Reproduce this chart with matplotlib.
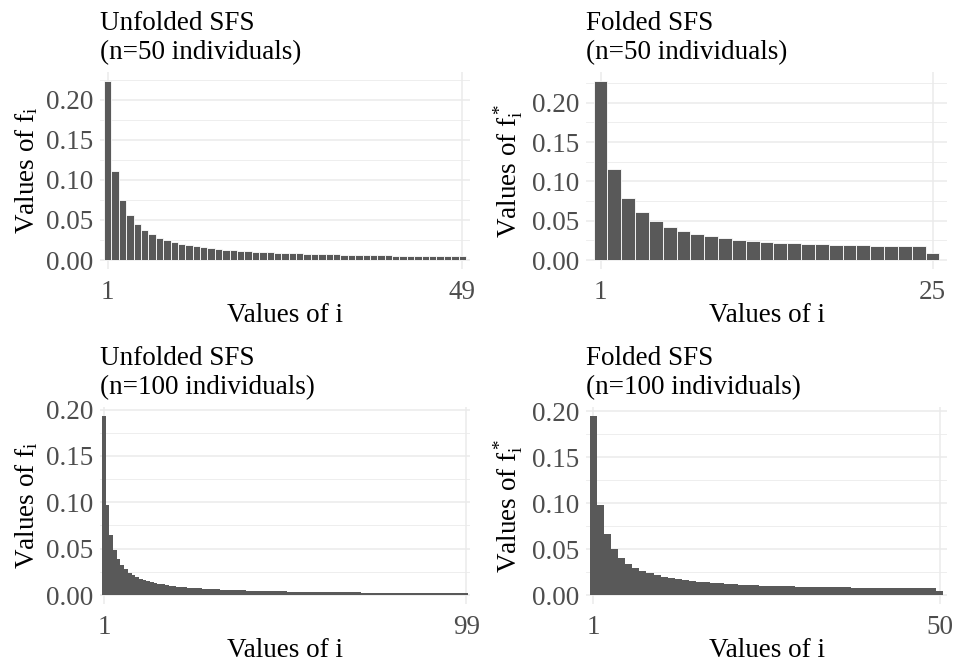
import matplotlib
matplotlib.use("Agg")
import matplotlib.pyplot as plt
import numpy as np

# site frequency spectra under the neutral model, n = 50 and n = 100
sfs50 = [0.2233, 0.1116, 0.0744, 0.0558, 0.0447, 0.0372, 0.0319, 0.0279, 0.0248, 0.0223,
         0.0203, 0.0186, 0.0172, 0.0159, 0.0149, 0.0140, 0.0131, 0.0124, 0.0118, 0.0112,
         0.0106, 0.0101, 0.0097, 0.0093, 0.0089, 0.0086, 0.0083, 0.0080, 0.0077, 0.0074,
         0.0072, 0.0070, 0.0068, 0.0066, 0.0064, 0.0062, 0.0060, 0.0059, 0.0057, 0.0056,
         0.0054, 0.0053, 0.0052, 0.0051, 0.0050, 0.0049, 0.0048, 0.0047, 0.0046]

folded50 = [0.2278, 0.1163, 0.0792, 0.0607, 0.0496, 0.0423, 0.0371, 0.0332, 0.0303, 0.0279,
            0.0260, 0.0245, 0.0232, 0.0221, 0.0213, 0.0205, 0.0199, 0.0194, 0.0190, 0.0186,
            0.0183, 0.0181, 0.0180, 0.0179, 0.0089]

sfs100 = [0.1931, 0.0966, 0.0644, 0.0483, 0.0386, 0.0322, 0.0276, 0.0241, 0.0215, 0.0193,
          0.0176, 0.0161, 0.0149, 0.0138, 0.0129, 0.0121, 0.0114, 0.0107, 0.0102, 0.0097,
          0.0092, 0.0088, 0.0084, 0.0080, 0.0077, 0.0074, 0.0072, 0.0069, 0.0067, 0.0064,
          0.0062, 0.0060, 0.0059, 0.0057, 0.0055, 0.0054, 0.0052, 0.0051, 0.0050, 0.0048,
          0.0047, 0.0046, 0.0045, 0.0044, 0.0043, 0.0042, 0.0041, 0.0040, 0.0039, 0.0039,
          0.0038, 0.0037, 0.0036, 0.0036, 0.0035, 0.0034, 0.0034, 0.0033, 0.0033, 0.0032,
          0.0032, 0.0031, 0.0031, 0.0030, 0.0030, 0.0029, 0.0029, 0.0028, 0.0028, 0.0028,
          0.0027, 0.0027, 0.0026, 0.0026, 0.0026, 0.0025, 0.0025, 0.0025, 0.0024, 0.0024,
          0.0024, 0.0024, 0.0023, 0.0023, 0.0023, 0.0022, 0.0022, 0.0022, 0.0022, 0.0021,
          0.0021, 0.0021, 0.0021, 0.0021, 0.0020, 0.0020, 0.0020, 0.0020, 0.0020]

folded100 = [0.1951, 0.0985, 0.0664, 0.0503, 0.0407, 0.0342, 0.0297, 0.0262, 0.0236, 0.0215,
             0.0197, 0.0183, 0.0171, 0.0160, 0.0151, 0.0144, 0.0137, 0.0131, 0.0126, 0.0121,
             0.0116, 0.0113, 0.0109, 0.0106, 0.0103, 0.0100, 0.0098, 0.0096, 0.0094, 0.0092,
             0.0090, 0.0089, 0.0087, 0.0086, 0.0085, 0.0084, 0.0083, 0.0082, 0.0081, 0.0080,
             0.0080, 0.0079, 0.0079, 0.0078, 0.0078, 0.0078, 0.0078, 0.0077, 0.0077, 0.0039]

titles = ["Unfolded SFS\n(n=50 individuals)", "Folded SFS\n(n=50 individuals)",
          "Unfolded SFS\n(n=100 individuals)", "Folded SFS\n(n=100 individuals)"]
ylabels = [r"Values of $\mathrm{f_i}$", r"Values of $\mathrm{f_i^*}$",
           r"Values of $\mathrm{f_i}$", r"Values of $\mathrm{f_i^*}$"]
series = [sfs50, folded50, sfs100, folded100]

plt.rcParams["font.family"] = "Liberation Serif"
plt.rcParams["mathtext.fontset"] = "custom"
plt.rcParams["mathtext.rm"] = "Liberation Serif"
plt.rcParams["mathtext.it"] = "Liberation Serif:italic"

fig = plt.figure(figsize=(9.54, 6.63), dpi=100)

# panel boxes in figure fractions: left, bottom, width, height
boxes = [[0.1048, 0.5943, 0.3879, 0.2971],
         [0.6143, 0.5943, 0.3784, 0.2971],
         [0.1048, 0.0890, 0.3879, 0.2971],
         [0.6143, 0.0890, 0.3784, 0.2971]]

fs = 19.5
grid_col = "#EBEBEB"
for k in range(4):
    ax = fig.add_axes(boxes[k])
    vals = np.array(series[k])
    x = np.arange(1, len(vals) + 1)
    edge_w = 0.6 if k < 2 else 0.0
    ax.bar(x, vals, width=1.0, color="#595959", edgecolor="white",
           linewidth=edge_w, zorder=3)

    ymax = vals.max()
    top = 1.05 * ymax
    ax.set_ylim(-0.05 * ymax, top)
    ax.set_xlim(0.5 - 0.55, len(vals) + 0.5 + 0.55)

    yt = np.arange(0, top, 0.05)
    ax.set_yticks(yt)
    ax.set_yticklabels(["%.2f" % v for v in yt])
    ax.set_yticks(np.arange(0.025, top, 0.05), minor=True)
    ax.set_xticks([1, len(vals)])
    ax.set_xticklabels(["1", str(len(vals))])

    ax.grid(True, which="major", color=grid_col, linewidth=1.1, zorder=0)
    ax.grid(True, which="minor", axis="y", color=grid_col, linewidth=0.6, zorder=0)
    for s in ax.spines.values():
        s.set_visible(False)
    ax.tick_params(which="both", length=0, labelsize=fs, colors="#4D4D4D")
    ax.tick_params(axis="y", pad=5)
    ax.tick_params(axis="x", pad=8)

    ax.set_xlabel("Values of i", fontsize=fs, labelpad=-1.5)
    ax.set_ylabel(ylabels[k], fontsize=fs, labelpad=4)
    ax.set_title(titles[k], loc="left", fontsize=fs, linespacing=1.2, pad=9.5)

fig.savefig("out.png", dpi=100)
